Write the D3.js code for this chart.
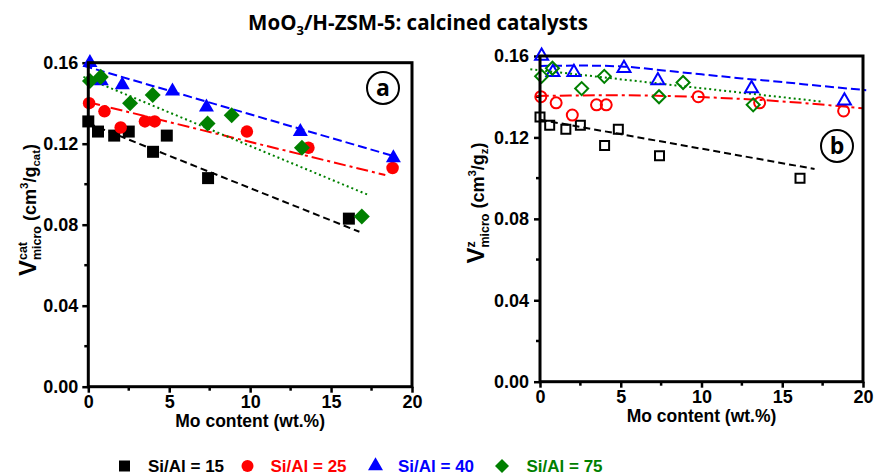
<!DOCTYPE html>
<html>
<head>
<meta charset="utf-8">
<script src="https://cdn.jsdelivr.net/npm/d3@7"></script>
<style>
  body { margin: 0; background: white; }
  svg { display: block; }
</style>
</head>
<body>
<main></main>
<script>
// Mo content (wt.%) of each sample, per Si/Al series
const mo15 = [0, 0.6, 1.6, 2.5, 4.0, 4.85, 7.4, 16.1];
const mo25 = [0.05, 1.0, 2.0, 3.5, 4.1, 9.8, 13.6, 18.8];
const mo40 = [0.1, 0.8, 2.1, 5.2, 7.3, 13.1, 18.85];
const mo75 = [0.1, 0.77, 2.58, 3.98, 7.37, 8.86, 13.2, 16.9];

// panel a: V micro per gram catalyst
const vCat15 = [0.131, 0.126, 0.124, 0.126, 0.116, 0.124, 0.103, 0.083];
const vCat25 = [0.140, 0.136, 0.128, 0.131, 0.131, 0.126, 0.118, 0.108];
const vCat40 = [0.160, 0.151, 0.149, 0.146, 0.138, 0.126, 0.113];
const vCat75 = [0.151, 0.153, 0.140, 0.144, 0.130, 0.134, 0.118, 0.084];

// panel b: V micro per gram zeolite (no 75 sample at ~17 wt.%)
const vZ15 = [0.130, 0.126, 0.124, 0.126, 0.116, 0.124, 0.111, 0.100];
const vZ25 = [0.140, 0.137, 0.131, 0.136, 0.136, 0.140, 0.137, 0.133];
const vZ40 = [0.160, 0.152, 0.152, 0.154, 0.148, 0.144, 0.138];
const vZ75 = [0.150, 0.154, 0.144, 0.150, 0.140, 0.147, 0.136];

// trend lines
const fitCatX15 = [0, 16.75],  fitCatV15 = [0.130, 0.0765];
const fitCatX25 = [0, 18.35],  fitCatV25 = [0.1405, 0.1045];
const fitCatX40 = [-0.3, 18.85], fitCatV40 = [0.1585, 0.1139];
const fitCatX75 = [-0.3, 17.3], fitCatV75 = [0.153, 0.0947];

const fitZX15 = [0, 17],  fitZV15 = [0.1287, 0.1045];
const fitZX25 = [-0.2, 5, 10, 15, 20], fitZV25 = [0.1404, 0.1407, 0.1398, 0.1377, 0.1343];
const fitZX40 = [0, 2.5, 5, 7.5, 10, 12.5, 15, 17.5, 20.2];
const fitZV40 = [0.1551, 0.1553, 0.1549, 0.1530, 0.1510, 0.1490, 0.1472, 0.1452, 0.1432];
const fitZX75 = [-0.6, 17.45], fitZV75 = [0.1535, 0.1376];

const seriesNames = ["Si/Al = 15", "Si/Al = 25", "Si/Al = 40", "Si/Al = 75"];
const xTicks = [0, 5, 10, 15, 20];
const yTicks = [0, 0.04, 0.08, 0.12, 0.16];

const COLORS = ["#000000", "#ff0000", "#0000ff", "#008000"];
const SHAPES = ["square", "circle", "triangle", "diamond"];
const DASHES = ["7,4", "12,4,3,4", "9,4", "2,3"];
const FONT = "'Liberation Sans', Arial, sans-serif";

const W = 875, H = 475;

var svg = d3.select("main").append("svg")
            .attr("width", W)
            .attr("height", H);

svg.append("rect").attr("width", W).attr("height", H).style("fill", "white");

function symbolPath (shape, s) {
    if (shape == "square") return d3.symbol(d3.symbolSquare, s * s)();
    if (shape == "circle") return d3.symbol(d3.symbolCircle, Math.PI * s * s / 4)();
    if (shape == "triangle") return d3.symbol(d3.symbolTriangle, Math.sqrt(3) / 4 * s * s)();
    // diamond = square turned 45 degrees, s is the diagonal
    return d3.symbol(d3.symbolSquare, s * s / 2)();
}

function drawPanel (cfg) {
    var x = d3.scaleLinear().domain([0, 20]).range([cfg.left, cfg.right]);
    var y = d3.scaleLinear().domain([0, 0.16]).range([cfg.bottom, cfg.top]);
    var g = svg.append("g");

    // minor ticks
    var minorX = d3.range(2.5, 20, 5);
    var minorY = d3.range(0.02, 0.16, 0.04);
    g.selectAll(".mx").data(minorX).enter().append("line")
     .attr("x1", d => x(d)).attr("x2", d => x(d))
     .attr("y1", cfg.bottom).attr("y2", cfg.bottom + 4)
     .style("stroke", "black").style("stroke-width", 2.5);
    g.selectAll(".my").data(minorY).enter().append("line")
     .attr("y1", d => y(d)).attr("y2", d => y(d))
     .attr("x1", cfg.left).attr("x2", cfg.left - 4)
     .style("stroke", "black").style("stroke-width", 2.5);

    // major axes
    var xAxis = g.append("g")
                 .attr("transform", "translate(0," + cfg.bottom + ")")
                 .call(d3.axisBottom(x).tickValues(xTicks).tickSize(6).tickPadding(3).tickFormat(d3.format("d")));
    var yAxis = g.append("g")
                 .attr("transform", "translate(" + cfg.left + ",0)")
                 .call(d3.axisLeft(y).tickValues(yTicks).tickSize(6).tickPadding(cfg.yPad).tickFormat(d3.format(".2f")));
    [xAxis, yAxis].forEach(function (a) {
        a.select(".domain").remove();
        a.selectAll("line").style("stroke", "black").style("stroke-width", 2.5);
        a.selectAll("text")
         .style("font-family", FONT).style("font-weight", "bold")
         .style("font-size", "18px").style("fill", "black");
    });

    // trend lines
    var line = d3.line().x(d => x(d[0])).y(d => y(d[1])).curve(d3.curveMonotoneX);
    cfg.fits.forEach(function (f, i) {
        g.append("path")
         .datum(d3.zip(f[0], f[1]))
         .attr("d", line)
         .style("fill", "none")
         .style("stroke", COLORS[i])
         .style("stroke-width", 2)
         .style("stroke-dasharray", DASHES[i]);
    });

    // points
    cfg.points.forEach(function (p, i) {
        g.selectAll(null)
         .data(d3.zip(p[0], p[1]))
         .enter()
         .append("path")
         .attr("d", symbolPath(SHAPES[i], cfg.sizes[i]))
         .attr("transform", d => "translate(" + x(d[0]) + "," + y(d[1]) + ")" + (SHAPES[i] == "diamond" ? " rotate(45)" : ""))
         .style("fill", cfg.open ? "none" : COLORS[i])
         .style("stroke", cfg.open ? COLORS[i] : "none")
         .style("stroke-width", 2);
    });

    // frame
    g.append("rect")
     .attr("x", cfg.left).attr("y", cfg.top)
     .attr("width", cfg.right - cfg.left).attr("height", cfg.bottom - cfg.top)
     .style("fill", "none").style("stroke", "black").style("stroke-width", 3);

    // x title
    g.append("text")
     .attr("x", (cfg.left + cfg.right) / 2).attr("y", cfg.bottom + 40)
     .style("text-anchor", "middle")
     .style("font-family", FONT).style("font-weight", "bold").style("font-size", "17.5px")
     .text("Mo content (wt.%)");

    // circled panel letter
    g.append("circle")
     .attr("cx", cfg.tag[0]).attr("cy", cfg.tag[1]).attr("r", 16)
     .style("fill", "white").style("stroke", "black").style("stroke-width", 2);
    g.append("text")
     .attr("x", cfg.tag[0]).attr("y", cfg.tag[1] + 8)
     .style("text-anchor", "middle")
     .style("font-family", "'Open Sans', sans-serif").style("font-weight", "bold").style("font-size", "23px")
     .text(cfg.letter);

    drawYTitle(cfg.yTitle[0], cfg.yTitle[1], cfg.sup, cfg.unit);
}

// rotated y title: V with stacked sup/sub, then (cm3/g_unit)
function drawYTitle (cx, cy, sup, unit) {
    var g = svg.append("g").attr("transform", "translate(" + cx + "," + cy + ") rotate(-90)");
    var pieces = [
        {t: "V", size: 24, dy: 0},
        {t: sup, size: 12.5, dy: -9, stack: true},
        {t: "micro", size: 12.5, dy: 5},
        {t: "\u00a0(cm", size: 18, dy: 0},
        {t: "3", size: 11.5, dy: -8},
        {t: "/g", size: 18, dy: 0},
        {t: unit, size: 11.5, dy: 4},
        {t: ")", size: 18, dy: 0}
    ];
    var pos = 0, stackW = 0;
    pieces.forEach(function (p) {
        var el = g.append("text")
                  .attr("x", pos).attr("y", 7 + p.dy)
                  .style("font-family", FONT).style("font-weight", "bold")
                  .style("font-size", p.size + "px")
                  .text(p.t);
        var w = el.node().getComputedTextLength();
        if (p.stack) {
            stackW = w;
        } else if (p.t == "micro") {
            pos += Math.max(w, stackW);
        } else {
            pos += w;
        }
    });
    g.selectAll("text").attr("x", function () { return +d3.select(this).attr("x") - pos / 2; });
}

drawPanel({
    left: 88.3, right: 412, top: 62.7, bottom: 386.7, yPad: 4,
    points: [[mo15, vCat15], [mo25, vCat25], [mo40, vCat40], [mo75, vCat75]],
    fits: [[fitCatX15, fitCatV15], [fitCatX25, fitCatV25], [fitCatX40, fitCatV40], [fitCatX75, fitCatV75]],
    sizes: [12, 12.5, 15, 16],
    open: false,
    tag: [383, 88], letter: "a",
    yTitle: [29, 210], sup: "cat", unit: "cat"
});

drawPanel({
    left: 540, right: 863, top: 56, bottom: 381.7, yPad: 5,
    points: [[mo15, vZ15], [mo25, vZ25], [mo40, vZ40], [mo75.slice(0, 7), vZ75]],
    fits: [[fitZX15, fitZV15], [fitZX25, fitZV25], [fitZX40, fitZV40], [fitZX75, fitZV75]],
    sizes: [9, 11, 13, 13],
    open: true,
    tag: [837, 146], letter: "b",
    yTitle: [477, 203], sup: "z", unit: "z"
});

// title
var title = svg.append("text")
               .attr("x", 418).attr("y", 30)
               .style("text-anchor", "middle")
               .style("font-family", "'Open Sans', sans-serif").style("font-weight", "bold").style("font-size", "20.5px");
title.append("tspan").text("MoO");
title.append("tspan").attr("dy", 5).style("font-size", "13px").text("3");
title.append("tspan").attr("dy", -5).text("/H-ZSM-5: calcined catalysts");

// legend
var legendX = [124.5, 247.5, 375.5, 502];
var legend = svg.selectAll(".legend")
                .data(seriesNames)
                .enter()
                .append("g")
                .attr("transform", (d, i) => "translate(" + legendX[i] + ",466)");
legend.append("path")
      .attr("d", (d, i) => symbolPath(SHAPES[i], [11, 12, 15, 14][i]))
      .attr("transform", (d, i) => SHAPES[i] == "diamond" ? "rotate(45)" : null)
      .style("fill", (d, i) => COLORS[i]);
legend.append("text")
      .attr("x", (d, i) => [23.5, 23, 22.5, 24.5][i])
      .attr("y", 6)
      .style("font-family", FONT).style("font-weight", "bold").style("font-size", "17px")
      .style("fill", (d, i) => COLORS[i])
      .text(d => d);
</script>
</body>
</html>
